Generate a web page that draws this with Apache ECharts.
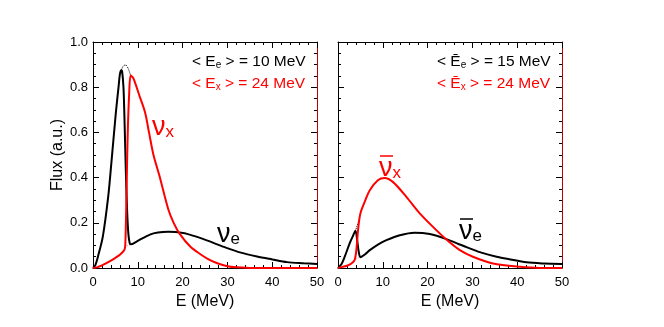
<!DOCTYPE html>
<html><head><meta charset="utf-8">
<script src="https://cdn.jsdelivr.net/npm/echarts@6/dist/echarts.min.js"></script>
<style>html,body{margin:0;padding:0;background:#fff}#c{width:664px;height:327px}</style>
</head><body><div id="c"></div>
<script>
// ---- data ----
const xTicks = [0, 10, 20, 30, 40, 50];
const yTicks = [0.0, 0.2, 0.4, 0.6, 0.8, 1.0];

// left panel: neutrinos
const nueE = [0,0.5,1.1,2.2,3.4,4.1,5.1,5.7,6.0,6.3,6.5,6.8,7.0,7.3,7.6,7.9,8.2,8.5,10,12.7,14.5,16.8,20.1,22.5,25.4,29.8,33,36.6,40,43.3,47,50];
const nueF = [0,0.012,0.05,0.14,0.317,0.465,0.687,0.80,0.857,0.875,0.87,0.80,0.68,0.45,0.26,0.15,0.11,0.105,0.12,0.148,0.157,0.16,0.155,0.142,0.122,0.089,0.068,0.051,0.038,0.026,0.021,0.018];
const nueDotE = [6.3,6.8,7.3,7.8,8.4];
const nueDotF = [0.875,0.895,0.898,0.885,0.852];

const nuxE = [0,1,2,3,4,5,6,7,7.2,7.4,7.6,7.8,8.05,8.4,9,10.4,11.6,12.5,13.5,14.8,16.8,18,19.4,21.7,23.9,25.5,27.6,30,32,35,40,50];
const nuxF = [0,0.004,0.012,0.022,0.033,0.045,0.059,0.08,0.10,0.25,0.46,0.63,0.76,0.852,0.84,0.76,0.69,0.60,0.50,0.41,0.26,0.20,0.15,0.095,0.062,0.042,0.022,0.008,0.003,0.0005,0,0];
const nuxDotE = [7.2,7.8,8.5];
const nuxDotF = [0.095,0.10,0.105];

// right panel: antineutrinos
const anueE = [0,0.8,1.5,2.6,3.3,3.9,4.3,4.6,5.0,6,7.1,9,10.8,13.8,17.1,20.5,24.2,27,29.4,32,35.4,38,42.1,46,50];
const anueF = [0,0.018,0.05,0.109,0.14,0.165,0.12,0.075,0.048,0.06,0.079,0.105,0.123,0.145,0.156,0.15,0.128,0.105,0.087,0.068,0.05,0.04,0.025,0.02,0.018];
const anueDotE = [3.9,4.4,4.9];
const anueDotF = [0.165,0.195,0.225];

const anuxE = [0,1,2,3,3.7,4.1,4.47,4.84,5.2,6,7.1,8.9,10.4,12.3,15.3,18.2,21.2,24.2,27.2,30.1,34.6,40.6,45,50];
const anuxF = [0,0.005,0.01,0.02,0.035,0.08,0.167,0.226,0.255,0.295,0.344,0.388,0.398,0.38,0.314,0.243,0.182,0.126,0.079,0.05,0.02,0.005,0,0];
const anuxDotE = [4.1,4.6,5.0];
const anuxDotF = [0.04,0.045,0.048];

const zip = (a, b) => a.map((v, i) => [v, b[i]]);
const FONT = '"Liberation Sans", Arial, sans-serif';
const RED = '#ff0000';

function xAx(grid, pos, labels, name) {
  return {
    type: 'value', gridIndex: grid, position: pos, min: 0, max: 50, interval: 10,
    axisLine: { show: true, onZero: false, lineStyle: { color: '#000', width: 1 } },
    axisTick: { show: true, inside: true, length: 6, lineStyle: { color: '#000' } },
    minorTick: { show: true, splitNumber: 5, length: 3, lineStyle: { color: '#000' } },
    splitLine: { show: false },
    axisLabel: { show: labels, color: '#000', fontFamily: FONT, fontSize: 13, margin: 8 },
    name: name || '', nameLocation: 'middle', nameGap: 26,
    nameTextStyle: { color: '#000', fontFamily: FONT, fontSize: 16 }
  };
}
function yAx(grid, pos, labels, name, lineColor) {
  return {
    type: 'value', gridIndex: grid, position: pos, min: 0, max: 1, interval: 0.2,
    axisLine: { show: true, onZero: false, lineStyle: { color: lineColor || '#000', width: 1 } },
    axisTick: { show: true, inside: true, length: 6, lineStyle: { color: '#000' } },
    minorTick: { show: true, splitNumber: 4, length: 3, lineStyle: { color: '#000' } },
    splitLine: { show: false },
    axisLabel: { show: labels, color: '#000', fontFamily: FONT, fontSize: 13, margin: 5,
      formatter: v => v.toFixed(1) },
    name: name || '', nameLocation: 'middle', nameGap: 20,
    nameTextStyle: { color: '#000', fontFamily: FONT, fontSize: 16 }
  };
}
function line(xi, yi, data, color, width, dotted) {
  return {
    type: 'line', xAxisIndex: xi, yAxisIndex: yi, data: data, showSymbol: false,
    smooth: 0.3, silent: true,
    lineStyle: { color: color, width: width, type: dotted ? 'dotted' : 'solid' },
    z: dotted ? 1 : 3
  };
}

function txt(x, y, rich, text, color) {
  return { type: 'text', left: x, top: y, z: 10,
    style: { text: text, fill: color, font: '15px ' + FONT, rich: rich } };
}
function bar(x, y, w, color) {
  return { type: 'line', z: 10, shape: { x1: x, y1: y, x2: x + w, y2: y },
    style: { stroke: color, lineWidth: 1.5 } };
}
const richLegend = (c) => ({
  m: { fontSize: 15.5, fontFamily: FONT, color: c, lineHeight: 18, verticalAlign: 'bottom' },
  s: { fontSize: 10, fontFamily: FONT, color: c, lineHeight: 10, verticalAlign: 'bottom' }
});
const richNu = (c) => ({
  n: { fontSize: 27, fontFamily: FONT, color: c, lineHeight: 26, verticalAlign: 'bottom' },
  s: { fontSize: 17, fontFamily: FONT, color: c, lineHeight: 14, verticalAlign: 'bottom' }
});

const chart = echarts.init(document.getElementById('c'), null, { renderer: 'canvas' });
chart.setOption({
  backgroundColor: '#fff',
  animation: false,
  grid: [
    { left: 93, top: 42, width: 224, height: 226 },
    { left: 338, top: 42, width: 224, height: 226 }
  ],
  xAxis: [
    xAx(0, 'bottom', true, 'E (MeV)'), xAx(0, 'top', false),
    xAx(1, 'bottom', true, 'E (MeV)'), xAx(1, 'top', false)
  ],
  yAxis: [
    yAx(0, 'left', true, 'Flux (a.u.)'), yAx(0, 'right', false, '', '#c00000'),
    yAx(1, 'left', false), yAx(1, 'right', false, '', '#c00000')
  ],
  series: [
    line(0, 0, zip(nueDotE, nueDotF), '#000', 1, true),
    line(0, 0, zip(nuxDotE, nuxDotF), '#ff8080', 1, true),
    line(0, 0, zip(nueE, nueF), '#000', 2),
    line(0, 0, zip(nuxE, nuxF), RED, 2),
    line(2, 2, zip(anueDotE, anueDotF), '#000', 1, true),
    line(2, 2, zip(anuxDotE, anuxDotF), '#ff8080', 1, true),
    line(2, 2, zip(anueE, anueF), '#000', 2),
    line(2, 2, zip(anuxE, anuxF), RED, 2)
  ],
  graphic: [
    txt(192, 54, richLegend('#000'), '{m|< E}{s|e}{m| > = 10 MeV}', '#000'),
    txt(192, 76, richLegend(RED), '{m|< E}{s|x}{m| > = 24 MeV}', RED),
    txt(437, 54, richLegend('#000'), '{m|< \u0112}{s|e}{m| > = 15 MeV}', '#000'),
    txt(437, 76, richLegend(RED), '{m|< \u0112}{s|x}{m| > = 24 MeV}', RED),
    txt(152, 114, richNu(RED), '{n|\u03bd}{s|x}', RED),
    txt(217, 221, richNu('#000'), '{n|\u03bd}{s|e}', '#000'),
    txt(379, 155, richNu(RED), '{n|\u03bd}{s|x}', RED),
    bar(380, 156, 13, RED),
    txt(459, 218, richNu('#000'), '{n|\u03bd}{s|e}', '#000'),
    bar(460, 219, 13, '#000')
  ]
});
</script></body></html>
